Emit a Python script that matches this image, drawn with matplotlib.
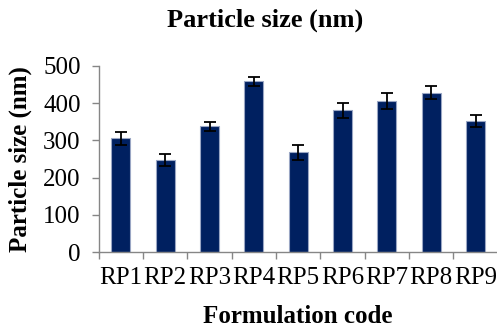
import numpy as np
import matplotlib
matplotlib.use("Agg")
import matplotlib.pyplot as plt

# ===============================
# DATA
# ===============================
codes = ["RP1", "RP2", "RP3", "RP4", "RP5", "RP6", "RP7", "RP8", "RP9"]
size_nm = [305, 247, 338, 459, 268, 380, 406, 428, 351]
size_err = [18, 15, 12, 12, 20, 19, 22, 17, 16]
y_ticks = [0, 100, 200, 300, 400, 500]

bar_color = "#002060"
axis_gray = "#868686"

plt.rcParams["font.family"] = ["Liberation Serif", "DejaVu Serif"]

fig = plt.figure(figsize=(4.97, 3.29), dpi=100)
ax = fig.add_axes([0.1986, 0.234, 0.803, 0.566])

x = np.arange(len(codes))
ax.bar(x, size_nm, width=0.43, color=bar_color, edgecolor="#9aa6c4",
       linewidth=0.8, zorder=2)
ax.errorbar(x, size_nm, yerr=size_err, fmt="none", ecolor="black",
            elinewidth=1.3, capsize=4.5, capthick=1.3, zorder=3)

ax.set_xlim(-0.5, len(codes) - 0.5)
ax.set_ylim(0, 500)
ax.set_yticks(y_ticks)
ax.tick_params(axis="y", labelsize=18, length=5, width=1, color=axis_gray,
               pad=8, direction="out")

# category labels at centres, tick marks at the boundaries
ax.set_xticks(x)
ax.set_xticklabels(codes)
ax.set_xticks(np.arange(len(codes) + 1) - 0.5, minor=True)
ax.tick_params(axis="x", which="major", length=0, labelsize=18, pad=11)
ax.tick_params(axis="x", which="minor", length=5, width=1, color=axis_gray,
               direction="out")

for side in ["top", "right"]:
    ax.spines[side].set_visible(False)
for side in ["left", "bottom"]:
    ax.spines[side].set_color(axis_gray)
    ax.spines[side].set_linewidth(1)

ax.set_xlabel("Formulation code", fontsize=18, fontweight="bold")
ax.xaxis.set_label_coords(0.5, -0.285)
ax.set_ylabel("Particle size (nm)", fontsize=18, fontweight="bold")
ax.yaxis.set_label_coords(-0.168, 0.5)

fig.text(0.533, 1 - 20 / 329, "Particle size (nm)", fontsize=19,
         fontweight="bold", ha="center", va="center")

fig.savefig("out.png", dpi=100)
